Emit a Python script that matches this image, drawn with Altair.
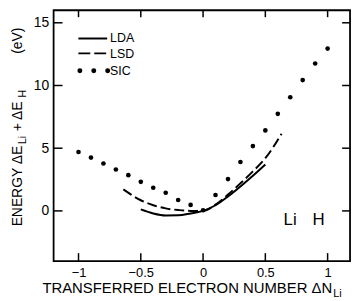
import altair as alt
import pandas as pd

# ---- data ----
sic_x = [-1.0, -0.9, -0.8, -0.7, -0.6, -0.5, -0.4, -0.3, -0.2, -0.1, 0.0,
         0.1, 0.2, 0.3, 0.4, 0.5, 0.6, 0.7, 0.8, 0.9, 1.0]
sic_y = [4.7, 4.25, 3.78, 3.3, 2.85, 2.32, 1.85, 1.45, 0.87, 0.48, 0.05,
         1.27, 2.54, 3.9, 5.17, 6.42, 7.74, 9.06, 10.43, 11.75, 12.94]

lda_x = [-0.5, -0.4, -0.3, -0.2, -0.1, 0.0, 0.1, 0.2, 0.3, 0.4, 0.5]
lda_y = [0.12, -0.2, -0.36, -0.35, -0.2, 0.0, 0.45, 1.15, 1.95, 2.8, 3.7]

lsd_x = [-0.64, -0.5, -0.4, -0.3, -0.2, -0.1, 0.0, 0.1, 0.2, 0.3, 0.4, 0.5, 0.63]
lsd_y = [1.72, 0.85, 0.45, 0.2, 0.07, 0.0, 0.0, 0.5, 1.3, 2.2, 3.15, 4.2, 6.15]

x_ticks = [-1, -0.5, 0, 0.5, 1]
y_ticks = [0, 5, 10, 15]
legend_labels = ["LDA", "LSD", "SIC"]
molecule = ["Li", "H"]
molecule_x = [0.646, 0.878]
molecule_y = [-1.1, -1.1]

FONT = "Liberation Sans"
W, H = 299, 253

xs = alt.Scale(domain=[-1.2, 1.18], nice=False, zero=False)
ys = alt.Scale(domain=[-4, 16], nice=False, zero=False)
x_axis = alt.Axis(values=x_ticks, format="~g", title=None, labelFontSize=13,
                  labelPadding=6, labelFont=FONT, labelColor="black")
y_axis = alt.Axis(values=y_ticks, format="d", title=None, labelFontSize=14,
                  labelPadding=5, labelFont=FONT, labelColor="black")

sic_df = pd.DataFrame({"x": sic_x, "y": sic_y})
lda_df = pd.DataFrame({"x": lda_x, "y": lda_y})
lsd_df = pd.DataFrame({"x": lsd_x, "y": lsd_y})
xt_df = pd.DataFrame({"v": x_ticks})
yt_df = pd.DataFrame({"v": y_ticks})
mol_df = pd.DataFrame({"t": molecule, "x": molecule_x, "y": molecule_y})

X = alt.X("x:Q", scale=xs, axis=x_axis)
Y = alt.Y("y:Q", scale=ys, axis=y_axis)

sic = alt.Chart(sic_df).mark_circle(size=22, color="black", opacity=1).encode(x=X, y=Y)
lda = alt.Chart(lda_df).mark_line(color="black", strokeWidth=2, interpolate="monotone").encode(x=X, y=Y)
lsd = alt.Chart(lsd_df).mark_line(color="black", strokeWidth=2, strokeDash=[10, 4],
                                  interpolate="monotone").encode(x=X, y=Y)

xt_bot = alt.Chart(xt_df).mark_rule(color="black", strokeWidth=1.5).encode(
    x=alt.X("v:Q", scale=xs, axis=x_axis), y=alt.value(H), y2=alt.value(H - 8))
xt_top = alt.Chart(xt_df).mark_rule(color="black", strokeWidth=1.5).encode(
    x=alt.X("v:Q", scale=xs, axis=x_axis), y=alt.value(0), y2=alt.value(7))
yt_left = alt.Chart(yt_df).mark_rule(color="black", strokeWidth=1.5).encode(
    y=alt.Y("v:Q", scale=ys, axis=y_axis), x=alt.value(0), x2=alt.value(9))
yt_right = alt.Chart(yt_df).mark_rule(color="black", strokeWidth=1.5).encode(
    y=alt.Y("v:Q", scale=ys, axis=y_axis), x=alt.value(W), x2=alt.value(W - 8))

mol = alt.Chart(mol_df).mark_text(font=FONT, fontSize=17, align="left",
                                  baseline="alphabetic", color="black").encode(
    x=alt.X("x:Q", scale=xs, axis=x_axis), y=alt.Y("y:Q", scale=ys, axis=y_axis), text="t:N")

base = alt.Chart(pd.DataFrame({"d": [0]}))

frame = base.mark_rect(fill=None, stroke="black", strokeWidth=1.8).encode(
    x=alt.value(0), x2=alt.value(W), y=alt.value(0), y2=alt.value(H))

# legend
leg_lda = base.mark_rule(color="black", strokeWidth=2).encode(
    x=alt.value(25), x2=alt.value(54), y=alt.value(28.5))
leg_lsd = base.mark_rule(color="black", strokeWidth=2, strokeDash=[12, 4]).encode(
    x=alt.value(25), x2=alt.value(55), y=alt.value(43.5))
leg_sic = base.mark_rule(color="black", strokeWidth=5, strokeDash=[0.01, 14],
                         strokeCap="round").encode(
    x=alt.value(26.5), x2=alt.value(56), y=alt.value(61))
leg_txt = [
    base.mark_text(text=legend_labels[i], font=FONT, fontSize=12.5, align="left",
                   baseline="middle", color="black").encode(
        x=alt.value(57), y=alt.value(yy))
    for i, yy in enumerate([28.5, 44, 61])
]

# x title with subscript
xt1 = base.mark_text(text="TRANSFERRED ELECTRON NUMBER  ΔN", font=FONT, fontSize=15,
                     align="right", baseline="alphabetic", color="black").encode(
    x=alt.value(281), y=alt.value(285))
xt2 = base.mark_text(text="Li", font=FONT, fontSize=11, align="left",
                     baseline="alphabetic", color="black").encode(
    x=alt.value(282), y=alt.value(289))

# y title pieces (rotated to read bottom-to-top)
ypieces = [("ENERGY ΔE", 218, 14, -36), ("Li", 135, 10.5, -31),
           ("+ ΔE", 122, 14, -36), ("H", 88, 10.5, -31),
           ("(eV)", 44, 14, -36)]
ytitle = [
    base.mark_text(text=t, font=FONT, fontSize=fs, align="left", baseline="middle",
                   color="black").encode(x=alt.value(xx), y=alt.value(yy),
                                         angle=alt.value(270))
    for t, yy, fs, xx in ypieces
]

chart = alt.layer(frame, sic, lda, lsd, xt_bot, xt_top, yt_left, yt_right, mol,
                  leg_lda, leg_lsd, leg_sic, *leg_txt, xt1, xt2, *ytitle).properties(
    width=W, height=H,
    padding={"left": 46, "top": 1, "right": 4, "bottom": 38},
    autosize=alt.AutoSizeParams(type="none"),
).configure_view(stroke=None).configure_axis(
    grid=False, ticks=False, domain=False, labelColor="black", labelFont=FONT)

chart.save("out.html", embed_options={"renderer": "svg", "actions": False})
